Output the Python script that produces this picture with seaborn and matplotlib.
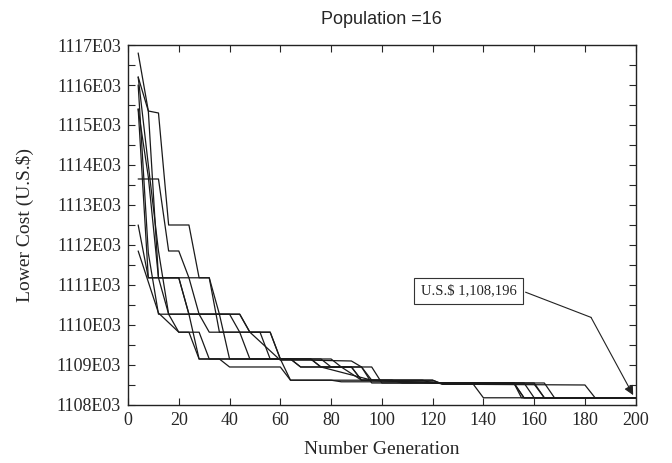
'''Convergence of the lower cost for 16-member populations'''
import numpy as np
import pandas as pd
import seaborn as sns
import matplotlib.pyplot as plt
from matplotlib.ticker import FuncFormatter, MultipleLocator

# cost in thousands of U.S.$, vertices of each run (generation, cost)
run1_gen = [4, 8, 12, 16, 24, 28, 32, 36, 56, 60, 76, 80, 92, 96, 120, 124, 180, 184, 200]
run1_cost = [1116.8, 1115.35, 1115.3, 1112.5, 1112.5, 1111.18, 1111.18, 1109.82, 1109.82, 1109.15,
             1109.15, 1108.95, 1108.95, 1108.62, 1108.62, 1108.52, 1108.5, 1108.18, 1108.18]

run2_gen = [4, 12, 16, 20, 24, 32, 36, 44, 48, 56, 60, 72, 76, 88, 92, 116, 120, 164, 168, 200]
run2_cost = [1113.65, 1113.65, 1111.85, 1111.85, 1111.18, 1111.18, 1110.27, 1110.27, 1109.82, 1109.82,
             1109.15, 1109.15, 1108.95, 1108.95, 1108.62, 1108.62, 1108.55, 1108.55, 1108.18, 1108.18]

run3_gen = [4, 8, 12, 16, 24, 28, 64, 68, 88, 92, 124, 152, 156, 200]
run3_cost = [1116.2, 1114.0, 1111.85, 1110.27, 1110.27, 1109.15, 1109.15, 1108.95, 1108.95, 1108.62,
             1108.55, 1108.55, 1108.18, 1108.18]

run4_gen = [4, 8, 12, 28, 32, 44, 48, 72, 76, 96, 120, 160, 164, 200]
run4_cost = [1116.0, 1111.8, 1110.27, 1110.27, 1109.82, 1109.82, 1109.15, 1109.15, 1108.95, 1108.62,
             1108.55, 1108.55, 1108.18, 1108.18]

run5_gen = [4, 8, 12, 16, 20, 28, 32, 60, 64, 120, 124, 136, 140, 200]
run5_cost = [1115.4, 1111.18, 1111.18, 1110.27, 1109.82, 1109.82, 1109.15, 1109.15, 1108.62, 1108.62,
             1108.52, 1108.52, 1108.18, 1108.18]

run6_gen = [4, 8, 12, 24, 28, 36, 40, 64, 68, 92, 96, 156, 160, 200]
run6_cost = [1115.4, 1113.7, 1111.18, 1111.18, 1110.27, 1110.27, 1109.15, 1109.15, 1108.95, 1108.95,
             1108.55, 1108.55, 1108.18, 1108.18]

run7_gen = [4, 8, 20, 24, 40, 44, 52, 56, 80, 84, 92, 104, 108, 152, 156, 200]
run7_cost = [1112.5, 1111.18, 1111.18, 1110.27, 1110.27, 1109.82, 1109.82, 1109.15, 1109.15, 1108.95,
             1108.62, 1108.62, 1108.55, 1108.55, 1108.18, 1108.18]

run8_gen = [4, 12, 20, 24, 28, 36, 40, 60, 64, 80, 84, 120, 124, 160, 164, 200]
run8_cost = [1111.85, 1110.3, 1109.82, 1109.82, 1109.15, 1109.15, 1108.95, 1108.95, 1108.62, 1108.62,
             1108.58, 1108.58, 1108.52, 1108.52, 1108.18, 1108.18]

run9_gen = [4, 8, 12, 20, 24, 44, 48, 60, 72, 88, 92, 96, 100, 152, 155, 200]
run9_cost = [1116.2, 1115.35, 1111.18, 1111.18, 1110.27, 1110.27, 1109.82, 1109.12, 1109.12, 1109.1,
             1108.95, 1108.95, 1108.55, 1108.55, 1108.18, 1108.18]

runs = [(run1_gen, run1_cost), (run2_gen, run2_cost), (run3_gen, run3_cost),
        (run4_gen, run4_cost), (run5_gen, run5_cost), (run6_gen, run6_cost),
        (run7_gen, run7_cost), (run8_gen, run8_cost), (run9_gen, run9_cost)]

best_cost = 1108.196
best_label = 'U.S.$ 1,108,196'

x_ticks = [0, 20, 40, 60, 80, 100, 120, 140, 160, 180, 200]

frames = []
for i, (g, c) in enumerate(runs):
    frames.append(pd.DataFrame({'gen': g, 'cost': c, 'run': i}))
df = pd.concat(frames, ignore_index=True)

sns.set_style('ticks')
plt.rcParams['font.family'] = ['Liberation Serif', 'DejaVu Serif']

fig = plt.figure(figsize=(6.72, 4.63), dpi=100)
ax = fig.add_axes([0.1905, 0.1253, 0.7555, 0.7775])

sns.lineplot(data=df, x='gen', y='cost', units='run', estimator=None,
             color='#1a1a1a', linewidth=0.9, sort=False, ax=ax, legend=False)

ax.set_xlim(0, 200)
ax.set_ylim(1108, 1117)
ax.set_xticks(x_ticks)
ax.yaxis.set_major_locator(MultipleLocator(1))
ax.yaxis.set_minor_locator(MultipleLocator(0.5))
ax.yaxis.set_major_formatter(FuncFormatter(lambda v, p: f'{int(round(v))}E03'))
ax.tick_params(direction='in', which='both', top=True, right=True, labelsize=13,
               length=5, width=0.8, pad=5)
for s in ax.spines.values():
    s.set_linewidth(1.0)
    s.set_color('#222222')

ax.set_xlabel('Number Generation', fontsize=14, labelpad=9)
ax.set_ylabel('Lower Cost (U.S.$)', fontsize=14, labelpad=16)
ax.set_title('Population =16', fontsize=13, family=['Liberation Sans', 'DejaVu Sans'], pad=15)

# callout box with the best cost found
ax.text(134.2, 1110.85, best_label, fontsize=10.5, ha='center', va='center',
        bbox=dict(boxstyle='square,pad=0.45', fc='white', ec='#333333', lw=0.8))
ax.plot([156.6, 182.4], [1110.82, 1110.19], color='#222222', lw=0.8)
ax.annotate('', xy=(199, best_cost + 0.05), xytext=(182.4, 1110.19),
            arrowprops=dict(arrowstyle='-|>', color='#222222', lw=0.8,
                            mutation_scale=14, shrinkA=0, shrinkB=0))

fig.savefig('out.png', dpi=100)
